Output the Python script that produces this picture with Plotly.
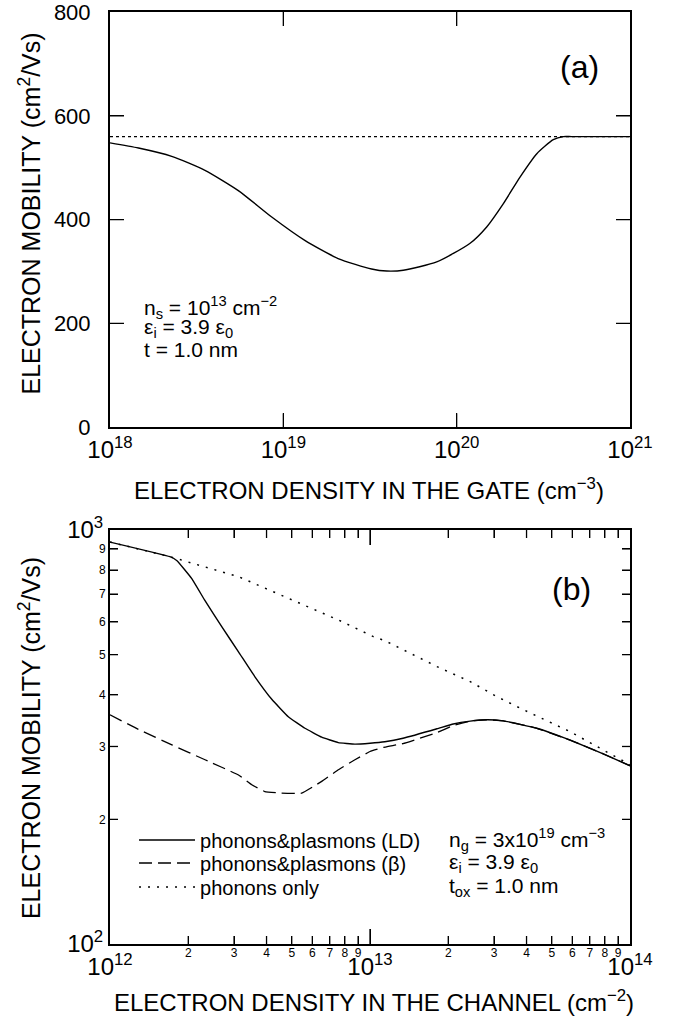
import plotly.graph_objects as go

# ---------------- data: panel (a) ----------------
gate_density = [1.0e18, 1.46e18, 2.27e18, 3.53e18, 5.50e18, 8.57e18, 1.33e19, 2.07e19,
                3.23e19, 3.95e19, 4.92e19, 7.67e19, 1.19e20, 1.49e20, 1.86e20, 2.32e20,
                2.90e20, 3.61e20, 4.13e20, 4.6e20, 1.0e21]
mobility_gate = [548, 538, 522, 495, 456, 405, 360, 325,
                 305, 301, 302.5, 318.5, 354, 386, 431, 482,
                 527, 554, 560, 560, 560]
gate_density_ph = [1.0e18, 1.0e21]
mobility_gate_ph = [560, 560]

# ---------------- data: panel (b) ----------------
chan_ld = [1.0e12, 1.70e12, 1.81e12, 2.06e12, 2.31e12, 2.69e12, 3.12e12, 3.61e12, 4.19e12,
           4.85e12, 5.62e12, 6.52e12, 7.55e12, 8.75e12, 1.0e13, 1.14e13, 1.34e13, 1.81e13,
           2.09e13, 2.43e13, 2.81e13, 3.26e13, 4.38e13, 5.87e13, 7.89e13, 1.0e14]
mob_ld = [935, 862, 843, 764, 678, 584, 508, 442, 390,
          354, 332, 316, 306.6, 304, 305.5, 308, 314, 331,
          340, 345.5, 348, 346, 332, 311, 288, 269.5]

chan_beta = [1.0e12, 1.285e12, 1.73e12, 2.32e12, 3.12e12, 3.51e12, 3.94e12, 4.57e12, 5.46e12,
             6.52e12, 7.55e12, 8.75e12, 1.0e13, 1.14e13, 1.34e13, 1.81e13, 2.09e13, 2.43e13,
             2.81e13, 3.26e13, 4.38e13, 5.87e13, 7.89e13, 1.0e14]
mob_beta = [357.7, 330, 302.7, 278.6, 256, 242.4, 233.5, 231.4, 231.4,
            247, 263.5, 278.6, 291.7, 299, 305, 324, 337, 345.5,
            348, 346, 332, 311, 288, 269.5]

chan_ph = [1.0e12, 1.70e12, 3.12e12, 4.19e12, 5.62e12, 7.55e12, 1.03e13, 1.14e13, 1.81e13,
           2.43e13, 3.07e13, 3.78e13, 5.87e13, 7.89e13, 9.70e13, 1.0e14]
mob_ph = [935, 862, 771.5, 712.6, 655.5, 606.4, 552.7, 540.6, 467.8,
          430.3, 396, 371.2, 326, 294.4, 274.4, 271]

# ---------------- ticks / tick labels ----------------
gate_ticks = [1e18, 1e19, 1e20, 1e21]
gate_ticktext = ["10<sup>18</sup>", "10<sup>19</sup>", "10<sup>20</sup>", "10<sup>21</sup>"]
mob_a_ticks = [0, 200, 400, 600, 800]
chan_major = [1e12, 1e13, 1e14]
chan_major_text = ["10<sup>12</sup>", "10<sup>13</sup>", "10<sup>14</sup>"]
chan_minor = [2e12, 3e12, 4e12, 5e12, 6e12, 7e12, 8e12, 9e12,
              2e13, 3e13, 4e13, 5e13, 6e13, 7e13, 8e13, 9e13]
chan_minor_text = ["2", "3", "4", "5", "6", "7", "8", "9"] * 2
mob_b_major = [100, 1000]
mob_b_major_text = ["10<sup>2</sup>", "10<sup>3</sup>"]
mob_b_minor = [200, 300, 400, 500, 600, 700, 800, 900]
mob_b_minor_text = ["2", "3", "4", "5", "6", "7", "8", "9"]

FONT = "Liberation Sans, Arial, Helvetica, sans-serif"
BLACK = "black"

fig = go.Figure()

# panel (a)
fig.add_trace(go.Scatter(x=gate_density_ph, y=mobility_gate_ph, mode="lines",
                         line=dict(color=BLACK, width=1.3, dash="3px,3px"),
                         showlegend=False, xaxis="x", yaxis="y"))
fig.add_trace(go.Scatter(x=gate_density, y=mobility_gate, mode="lines",
                         line=dict(color=BLACK, width=1.4, shape="spline", smoothing=0.6),
                         showlegend=False, xaxis="x", yaxis="y"))

# panel (b)
fig.add_trace(go.Scatter(x=chan_ld, y=mob_ld, mode="lines", name="phonons&plasmons (LD)",
                         line=dict(color=BLACK, width=1.4, shape="spline", smoothing=0.3),
                         xaxis="x2", yaxis="y2", legend="legend"))
fig.add_trace(go.Scatter(x=chan_beta, y=mob_beta, mode="lines", name="phonons&plasmons (β)",
                         line=dict(color=BLACK, width=1.3, dash="13px,6px", shape="spline", smoothing=0.3),
                         xaxis="x2", yaxis="y2", legend="legend2"))
fig.add_trace(go.Scatter(x=chan_ph, y=mob_ph, mode="lines", name="phonons only",
                         line=dict(color=BLACK, width=1.5, dash="2px,7px"),
                         xaxis="x2", yaxis="y2", legend="legend3"))
# empty trace registering the overlay axes that carry the minor tick labels
fig.add_trace(go.Scatter(x=[], y=[], mode="lines", showlegend=False, xaxis="x3", yaxis="y3"))

axis_common = dict(showline=True, linecolor=BLACK, linewidth=2, mirror="allticks",
                   ticks="inside", tickcolor=BLACK, tickwidth=1,
                   showgrid=False, zeroline=False, automargin=False,
                   ticklabeloverflow="allow")
minor_common = dict(showline=True, linecolor=BLACK, linewidth=2, mirror="allticks",
                    ticks="inside", tickcolor=BLACK, tickwidth=1,
                    showgrid=False, zeroline=False, automargin=False,
                    ticklabeloverflow="allow",
                    tickfont=dict(family=FONT, size=12, color=BLACK))

legend_common = dict(xanchor="left", yanchor="middle", bgcolor="rgba(0,0,0,0)", borderwidth=0,
                     font=dict(family=FONT, size=20, color=BLACK), itemwidth=56)

fig.update_layout(
    template="none",
    width=683, height=1019,
    margin=dict(l=110, r=53, t=12, b=75, autoexpand=False),
    paper_bgcolor="white", plot_bgcolor="white",
    font=dict(family=FONT, color=BLACK),
    xaxis=dict(type="log", range=[18, 21], domain=[0, 1], anchor="y",
               tickmode="array", tickvals=gate_ticks, ticktext=gate_ticktext,
               ticklen=14, tickfont=dict(family=FONT, size=24, color=BLACK), **axis_common),
    yaxis=dict(range=[0, 800], domain=[0.5544, 1.0], anchor="x",
               tickmode="array", tickvals=mob_a_ticks,
               ticklen=14, ticklabelstandoff=13,
               tickfont=dict(family=FONT, size=22, color=BLACK), **axis_common),
    xaxis2=dict(type="log", range=[12, 14], domain=[0, 1], anchor="y2",
                tickmode="array", tickvals=chan_major, ticktext=chan_major_text,
                ticklen=15, ticklabelstandoff=0,
                tickfont=dict(family=FONT, size=24, color=BLACK), **axis_common),
    yaxis2=dict(type="log", range=[2, 3], domain=[0, 0.4442], anchor="x2",
                tickmode="array", tickvals=mob_b_major, ticktext=mob_b_major_text,
                ticklen=15, ticklabelstandoff=0,
                tickfont=dict(family=FONT, size=24, color=BLACK), **axis_common),
    xaxis3=dict(type="log", range=[12, 14], overlaying="x2", anchor="y2", side="bottom",
                tickmode="array", tickvals=chan_minor, ticktext=chan_minor_text,
                ticklen=8, ticklabelstandoff=-3, **minor_common),
    yaxis3=dict(type="log", range=[2, 3], overlaying="y2", anchor="x2", side="left",
                tickmode="array", tickvals=mob_b_minor, ticktext=mob_b_minor_text,
                ticklen=8, ticklabelstandoff=0, **minor_common),
    legend=dict(x=0.0462, y=0.1116, **legend_common),
    legend2=dict(x=0.0462, y=0.0869, **legend_common),
    legend3=dict(x=0.0462, y=0.0612, **legend_common),
    showlegend=True,
)

# ---- inward tick marks (both sides), placed at the tick values, lengths in pixels ----
shapes = []
def xticks(vals, xref, ydom, length):
    for v in vals:
        for anchor, sign in ((0, 1), (1, -1)):
            shapes.append(dict(type="line", xref=xref, yref=ydom, ysizemode="pixel",
                               yanchor=anchor, x0=v, x1=v, y0=0, y1=sign * length,
                               line=dict(color=BLACK, width=1.3), layer="above"))

def yticks(vals, yref, xdom, length):
    for v in vals:
        for anchor, sign in ((0, 1), (1, -1)):
            shapes.append(dict(type="line", xref=xdom, yref=yref, xsizemode="pixel",
                               xanchor=anchor, y0=v, y1=v, x0=0, x1=sign * length,
                               line=dict(color=BLACK, width=1.3), layer="above"))

xticks(gate_ticks[1:-1], "x", "y domain", 14)
yticks(mob_a_ticks[1:-1], "y", "x domain", 14)
xticks(chan_major[1:-1], "x2", "y2 domain", 15)
xticks(chan_minor, "x2", "y2 domain", 8)
yticks(mob_b_minor, "y2", "x2 domain", 8)
fig.update_layout(shapes=shapes)

ann = []
def add_text(text, x, y, size, xanchor="left", yanchor="middle", angle=0):
    ann.append(dict(text=text, x=x, y=y, xref="paper", yref="paper", showarrow=False,
                    xanchor=xanchor, yanchor=yanchor, textangle=angle,
                    font=dict(family=FONT, size=size, color=BLACK)))

add_text("(a)", 0.9038, 0.941, 32, xanchor="center")
add_text("(b)", 0.888, 0.381, 32, xanchor="center")
add_text("n<sub>s</sub> = 10<sup>13</sup> cm<sup>−2</sup>", 0.0615, 0.6825, 21)
add_text("ε<sub>i</sub> = 3.9 ε<sub>0</sub>", 0.0615, 0.661, 21)
add_text("t = 1.0 nm", 0.0615, 0.6384, 21)
add_text("n<sub>g</sub> = 3x10<sup>19</sup> cm<sup>−3</sup>", 0.648, 0.1116, 21)
add_text("ε<sub>i</sub> = 3.9 ε<sub>0</sub>", 0.648, 0.0869, 21)
add_text("t<sub>ox</sub> = 1.0 nm", 0.648, 0.0612, 21)
add_text("ELECTRON DENSITY IN THE GATE (cm<sup>−3</sup>)", 0.498, 0.4882, 24, xanchor="center")
add_text("ELECTRON DENSITY IN THE CHANNEL (cm<sup>−2</sup>)", 0.5077, -0.0612, 24, xanchor="center")
add_text("ELECTRON MOBILITY (cm<sup>2</sup>/Vs)", -0.1538, 0.7838, 25, xanchor="center", angle=-90)
add_text("ELECTRON MOBILITY (cm<sup>2</sup>/Vs)", -0.1538, 0.221, 25, xanchor="center", angle=-90)
fig.update_layout(annotations=ann)

fig.write_html("out.html")
